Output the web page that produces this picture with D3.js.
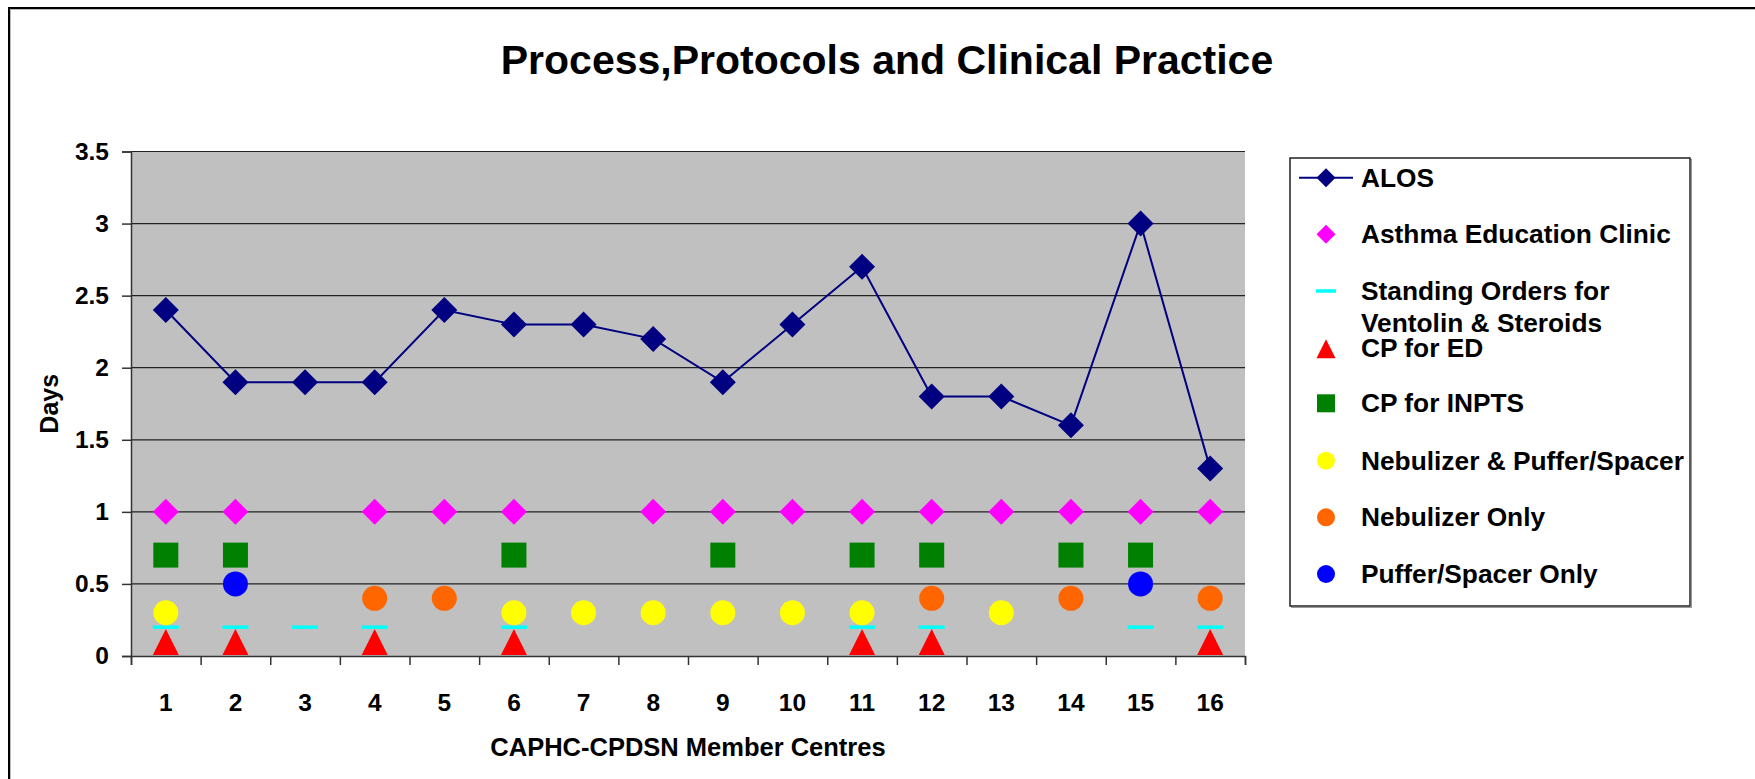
<!DOCTYPE html>
<meta charset="utf-8">
<script src="https://d3js.org/d3.v7.min.js"></script>
<style>
  body { margin: 0; background: #fff; }
  text { font-family: "Liberation Sans", Arial, sans-serif; font-weight: bold; fill: #000; }
</style>
<div id="chart"></div>
<script>

// categories (member centres)
var centres = ["1","2","3","4","5","6","7","8","9","10","11","12","13","14","15","16"];

// series values, null = no marker for that centre
var alos         = [2.4, 1.9, 1.9, 1.9, 2.4, 2.3, 2.3, 2.2, 1.9, 2.3, 2.7, 1.8, 1.8, 1.6, 3.0, 1.3];
var asthmaClinic = [1, 1, null, 1, 1, 1, null, 1, 1, 1, 1, 1, 1, 1, 1, 1];
var standingOrd  = [0.2, 0.2, 0.2, 0.2, null, 0.2, null, null, null, null, 0.2, 0.2, null, null, 0.2, 0.2];
var cpED         = [0.1, 0.1, null, 0.1, null, 0.1, null, null, null, null, 0.1, 0.1, null, null, null, 0.1];
var cpINPTS      = [0.7, 0.7, null, null, null, 0.7, null, null, 0.7, null, 0.7, 0.7, null, 0.7, 0.7, null];
var nebPuffer    = [0.3, null, null, null, null, 0.3, 0.3, 0.3, 0.3, 0.3, 0.3, null, 0.3, null, null, null];
var nebOnly      = [null, null, null, 0.4, 0.4, null, null, null, null, null, null, 0.4, null, 0.4, null, 0.4];
var pufferOnly   = [null, 0.5, null, null, null, null, null, null, null, null, null, null, null, null, 0.5, null];

var yTicks = [0, 0.5, 1, 1.5, 2, 2.5, 3, 3.5];

var W = 1755, H = 779;
var plot = {left: 131, right: 1245, top: 151.5, bottom: 656};

var svg = d3.select("#chart").append("svg")
    .attr("width", W)
    .attr("height", H);

// outer chart frame (cut off at right and bottom)
svg.append("rect")
    .attr("x", 10.5).attr("y", 9.5)
    .attr("width", W).attr("height", H)
    .style("fill", "none").style("stroke", "#bbb").style("stroke-width", 1);
svg.append("rect")
    .attr("x", 9).attr("y", 8)
    .attr("width", W).attr("height", H)
    .style("fill", "none").style("stroke", "#000").style("stroke-width", 2);

// title
svg.append("text")
    .attr("x", 887).attr("y", 74)
    .attr("text-anchor", "middle")
    .style("font-size", "41px")
    .text("Process,Protocols and Clinical Practice");

var x = d3.scaleBand()
    .domain(centres)
    .range([plot.left, plot.right]);

var xEdge = d3.scaleLinear()
    .domain([0, centres.length])
    .range([plot.left, plot.right]);

var y = d3.scaleLinear()
    .domain([0, 3.5])
    .range([plot.bottom, plot.top]);

function cx(i) { return x(centres[i]) + x.bandwidth() / 2; }

// plot area
svg.append("rect")
    .attr("x", plot.left).attr("y", plot.top)
    .attr("width", plot.right - plot.left)
    .attr("height", plot.bottom - plot.top)
    .style("fill", "#c0c0c0");

// gridlines
svg.append("g")
  .selectAll("line")
  .data(yTicks.filter(function(d){ return d > 0; }))
  .enter()
  .append("line")
    .attr("x1", plot.left).attr("x2", plot.right)
    .attr("y1", function(d){ return y(d); })
    .attr("y2", function(d){ return y(d); })
    .style("stroke", "#222")
    .style("stroke-width", 1.2);

// Y axis
var yAxis = svg.append("g")
    .attr("transform", "translate(" + plot.left + ",0)")
    .call(d3.axisLeft(y).tickValues(yTicks).tickSize(9).tickPadding(13)
      .tickFormat(function(d){ return String(d); }));
yAxis.selectAll("text").style("font-size", "24.5px").style("font-family", "'Liberation Sans', Arial, sans-serif").style("font-weight", "bold");
yAxis.selectAll("line, path").style("stroke", "#333").style("stroke-width", 1.5);

// X axis: ticks between centres
var xTicks = svg.append("g")
    .attr("transform", "translate(0," + plot.bottom + ")")
    .call(d3.axisBottom(xEdge).ticks(centres.length).tickSize(9).tickFormat(""));
xTicks.selectAll("line, path").style("stroke", "#333").style("stroke-width", 1.5);

// X labels at centre of each band
var xLab = svg.append("g")
    .attr("transform", "translate(0," + plot.bottom + ")")
    .call(d3.axisBottom(x).tickSize(0).tickPadding(38));
xLab.select(".domain").remove();
xLab.selectAll("text").style("font-size", "24.5px").style("font-family", "'Liberation Sans', Arial, sans-serif").style("font-weight", "bold");

// axis titles
svg.append("text")
    .attr("x", (plot.left + plot.right) / 2).attr("y", 756)
    .attr("text-anchor", "middle")
    .style("font-size", "25.5px")
    .text("CAPHC-CPDSN Member Centres");

svg.append("text")
    .attr("transform", "translate(58," + ((plot.top + plot.bottom) / 2) + ") rotate(-90)")
    .attr("text-anchor", "middle")
    .style("font-size", "25px")
    .text("Days");

// marker shapes, s = size in px
function diamond(s) { var h = s / 2; return "M0," + (-h) + "L" + h + ",0L0," + h + "L" + (-h) + ",0Z"; }
function square(s) { var h = s / 2; return "M" + (-h) + "," + (-h) + "h" + s + "v" + s + "h" + (-s) + "Z"; }
function triangle(s) { var h = s / 2; return "M0," + (-h + 0.5) + "L" + h + "," + (h + 0.5) + "L" + (-h) + "," + (h + 0.5) + "Z"; }
function circle(s) { var r = s / 2; return "M" + (-r) + ",0a" + r + "," + r + " 0 1,0 " + s + ",0a" + r + "," + r + " 0 1,0 " + (-s) + ",0Z"; }
function dash(s) { var h = s / 2; return "M" + (-h) + ",-1.75h" + s + "v3.5h" + (-s) + "Z"; }

// ALOS line
var line = d3.line()
    .x(function(d, i){ return cx(i); })
    .y(function(d){ return y(d); });

svg.append("path")
    .datum(alos)
    .attr("d", line)
    .style("fill", "none")
    .style("stroke", "#000080")
    .style("stroke-width", 2);

var series = [
  {name: "ALOS", values: alos, shape: diamond, size: 26, legSize: 19, color: "#000080"},
  {name: "Asthma Education Clinic", values: asthmaClinic, shape: diamond, size: 26, legSize: 19, color: "#ff00ff"},
  {name: "Standing Orders for|Ventolin & Steroids", values: standingOrd, shape: dash, size: 26, legSize: 20, color: "#00ffff"},
  {name: "CP for ED", values: cpED, shape: triangle, size: 26, legSize: 19, color: "#ff0000"},
  {name: "CP for INPTS", values: cpINPTS, shape: square, size: 25, legSize: 18, color: "#008000"},
  {name: "Nebulizer & Puffer/Spacer", values: nebPuffer, shape: circle, size: 25, legSize: 18, color: "#ffff00"},
  {name: "Nebulizer Only", values: nebOnly, shape: circle, size: 25, legSize: 18, color: "#ff6600"},
  {name: "Puffer/Spacer Only", values: pufferOnly, shape: circle, size: 25, legSize: 18, color: "#0000ff"}
];

series.forEach(function(s) {
  svg.append("g")
    .selectAll("path")
    .data(s.values.map(function(v, i){ return {v: v, i: i}; }).filter(function(d){ return d.v != null; }))
    .enter()
    .append("path")
      .attr("transform", function(d){ return "translate(" + cx(d.i) + "," + y(d.v) + ")"; })
      .attr("d", s.shape(s.size))
      .style("fill", s.color);
});

// legend
var leg = {x: 1290, y: 158, w: 400, h: 448};
svg.append("rect")
    .attr("x", leg.x + 1.5).attr("y", leg.y + 1.5)
    .attr("width", leg.w).attr("height", leg.h)
    .style("fill", "none").style("stroke", "#999").style("stroke-width", 1);
svg.append("rect")
    .attr("x", leg.x).attr("y", leg.y)
    .attr("width", leg.w).attr("height", leg.h)
    .style("fill", "#fff").style("stroke", "#222").style("stroke-width", 1.5);

var legY = [177.7, 234.3, 291, 348.3, 403.3, 460.7, 517.3, 574];

var items = svg.append("g")
  .selectAll("g")
  .data(series)
  .enter()
  .append("g")
    .attr("transform", function(d, i){ return "translate(0," + legY[i] + ")"; });

items.filter(function(d, i){ return i === 0; })
  .append("line")
    .attr("x1", 1299).attr("x2", 1353)
    .attr("y1", 0).attr("y2", 0)
    .style("stroke", "#000080").style("stroke-width", 2);

items.append("path")
    .attr("transform", "translate(1326,0)")
    .attr("d", function(d){ return d.shape(d.legSize); })
    .style("fill", function(d){ return d.color; });

items.append("text")
    .attr("x", 1361)
    .style("font-size", "26.3px")
    .style("dominant-baseline", "central")
  .selectAll("tspan")
  .data(function(d){ return d.name.split("|"); })
  .enter()
  .append("tspan")
    .attr("x", 1361)
    .attr("y", function(d, i){ return i * 31.7; })
    .text(function(d){ return d; });

</script>
